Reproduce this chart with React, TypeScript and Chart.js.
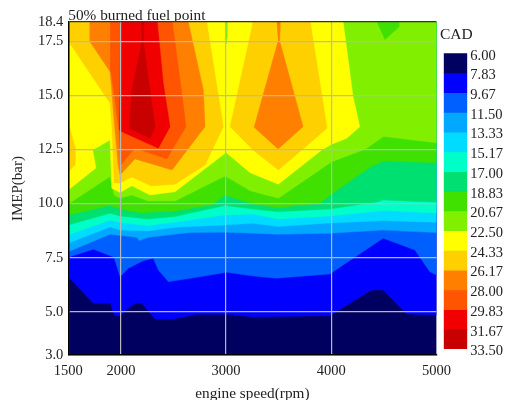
import React, { useEffect, useRef } from "react";
import { Chart, registerables } from "chart.js";

Chart.register(...registerables);

const FONT = "'Liberation Serif'";
const TEXT = "#222";

const rpmTicks = [1500, 2000, 3000, 4000, 5000];
const imepTicks = [3, 5, 7.5, 10, 12.5, 15, 17.5, 18.4];
const levels = [6, 7.83, 9.67, 11.5, 13.33, 15.17, 17, 18.83, 20.67, 22.5, 24.33, 26.17, 28, 29.83, 31.67, 33.5];
const bandColors = ["#000060", "#0000ff", "#0060ff", "#00a8ff", "#00dcff", "#00ffc8", "#00e070", "#40e000", "#80f000", "#ffff00", "#ffd000", "#ff8000", "#ff5500", "#f00000", "#c80000"];

type P = number[];
const base: P[] = [[1500, 3], [5000, 3], [5000, 18.4], [1500, 18.4]];
const c783: P[] = [[1500, 6.62], [1738, 5.39], [1903, 5.39], [1935, 4.85], [1992, 4.8], [2071, 5.16], [2134, 5.39], [2198, 5.39], [2325, 4.67], [2499, 4.67], [2721, 4.88], [3006, 4.88], [3256, 4.77], [3986, 4.82], [4382, 6.01], [4493, 6.01], [4714, 4.9], [5000, 4.85]];
const c967: P[] = [[1500, 7.52], [1738, 7.89], [1935, 7.52], [1992, 6.62], [2071, 7.01], [2213, 7.36], [2308, 7.47], [2356, 6.93], [2451, 6.39], [2721, 6.59], [3006, 6.83], [3256, 6.65], [3478, 6.55], [3986, 6.75], [4493, 8.4], [4794, 7.86], [4937, 6.85], [5000, 6.7]];
const c1150: P[] = [[1500, 7.78], [1897, 8.58], [2150, 8.44], [2175, 8.29], [2261, 8.44], [2657, 8.66], [3006, 8.68], [3256, 8.63], [3494, 8.58], [3986, 8.63], [4493, 8.78], [5000, 8.66]];
const c1333: P[] = [[1500, 8.17], [1897, 8.92], [1992, 8.78], [2261, 8.74], [2515, 8.91], [2990, 9.01], [3256, 9.09], [3494, 8.94], [3989, 9.11], [4493, 9.21], [5000, 9.14]];
const c1517: P[] = [[1500, 8.55], [1897, 9.24], [1992, 9.13], [2261, 8.99], [2515, 9.15], [2990, 9.48], [3256, 9.52], [3494, 9.29], [3989, 9.43], [4493, 9.68], [5000, 9.57]];
const c1700: P[] = [[1500, 9.01], [1897, 9.55], [1992, 9.43], [2258, 9.29], [2515, 9.4], [2990, 9.91], [3256, 9.75], [3494, 9.63], [3989, 9.75], [4445, 10.09], [4493, 10.17], [5000, 10.06]];
const c1883: P[] = [[1500, 9.48], [1897, 9.91], [1992, 9.75], [2198, 9.58], [2515, 9.66], [2864, 9.94], [2990, 10.4], [3256, 9.98], [3497, 9.81], [3894, 10.02], [3989, 10.4], [4353, 11.64], [4496, 11.97], [5000, 11.89]];
const c2067: P[] = [[1500, 9.98], [1897, 11.25], [1935, 10.4], [1992, 10.25], [2103, 10.4], [2258, 10.12], [2515, 10.12], [2990, 11.28], [3228, 10.6], [3497, 10.25], [4005, 11.94], [4322, 12.51], [4496, 13.1], [5000, 12.81]];
const c2250: P[] = [[1500, 10.63], [1763, 11.65], [1732, 12.48], [1897, 12.94], [1913, 10.71], [1992, 10.51], [2103, 10.83], [2277, 10.4], [2515, 10.55], [3000, 12.36], [3228, 11.43], [3497, 10.9], [3910, 12.48], [4005, 12.75], [4148, 13.02], [4271, 13.56], [4207, 14.95], [4113, 18.4]];
const dip2067: P[] = [[4433, 18.4], [4642, 18.4], [4642, 18.17], [4509, 17.58]];
const wedge2250: P[] = [[2990, 18.4], [3009, 18.4], [3009, 17.66], [3000, 17.38], [2990, 17.66]];
const c2433Left: P[] = [[1500, 18.4], [1500, 17.52], [1897, 14.64], [1916, 13.41], [1935, 10.96], [1992, 10.96], [2103, 11.23], [2287, 10.82], [2515, 10.9], [2800, 11.79], [2974, 13.56], [2816, 18.4]];
const c2433Right: P[] = [[3256, 18.4], [3228, 17.75], [3038, 13.56], [3256, 12.48], [3497, 11.56], [3720, 12.48], [3960, 13.49], [3801, 18.4]];
const c2433Edge: P[] = [[1500, 13.73], [1564, 12.62], [1564, 11.79], [1500, 11.48]];
const c2617Left: P[] = [[1706, 18.4], [1706, 17.49], [1897, 16.1], [1935, 13.87], [1973, 11.79], [1992, 11.33], [2134, 12.07], [2486, 11.56], [2800, 13.56], [2784, 15.26], [2641, 18.4]];
const c2617Right: P[] = [[3482, 18.4], [3516, 18.4], [3510, 17.52], [3732, 13.56], [3494, 12.53], [3266, 13.53], [3494, 17.52]];
const c2800: P[] = [[1903, 18.4], [1903, 16.1], [1944, 14.79], [1979, 13.41], [1998, 11.79], [2134, 12.57], [2436, 12.07], [2619, 13.56], [2581, 15.03], [2489, 18.4]];
const c2983: P[] = [[1998, 18.4], [1987, 13.41], [2008, 13.33], [2356, 12.56], [2467, 13.56], [2403, 15.58], [2346, 18.4]];
const c3167: P[] = [[2194, 18.4], [2220, 18.4], [2213, 17.49], [2325, 13.56], [2277, 13.02], [2080, 13.49], [2103, 15.26], [2201, 17.49]];

const above = (line: P[]): P[] => [...line, [5000, 18.4], [1500, 18.4]];
const regions: [P[], string][] = [
  [base, bandColors[0]],
  [above(c783), bandColors[1]],
  [above(c967), bandColors[2]],
  [above(c1150), bandColors[3]],
  [above(c1333), bandColors[4]],
  [above(c1517), bandColors[5]],
  [above(c1700), bandColors[6]],
  [above(c1883), bandColors[7]],
  [above(c2067), bandColors[8]],
  [[...c2250, [1500, 18.4]], bandColors[9]],
  [dip2067, bandColors[7]],
  [wedge2250, bandColors[8]],
  [c2433Left, bandColors[10]],
  [c2433Right, bandColors[10]],
  [c2433Edge, bandColors[10]],
  [c2617Left, bandColors[11]],
  [c2617Right, bandColors[11]],
  [c2800, bandColors[12]],
  [c2983, bandColors[13]],
  [c3167, bandColors[14]],
];

const alignTitle = (left: (c: any) => number) => ({
  id: "alignTitle",
  afterLayout(chart: any) {
    if (chart.titleBlock) chart.titleBlock.left = left(chart);
  },
});

export default function App() {
  const mapRef = useRef<HTMLCanvasElement>(null);
  const barRef = useRef<HTMLCanvasElement>(null);

  useEffect(() => {
    const map = new Chart(mapRef.current as any, {
      type: "scatter",
      data: {
        datasets: regions.map(([pts, color], i) => ({
          data: pts.map(([x, y]) => ({ x, y })),
          showLine: true,
          fill: "shape",
          order: regions.length - i,
          backgroundColor: color,
          borderColor: color,
          borderWidth: 0.4,
          pointRadius: 0,
          tension: 0,
        })),
      },
      options: {
        animation: false,
        responsive: false,
        layout: { padding: { left: 0, right: 69.5, top: 0, bottom: 0 } },
        plugins: {
          legend: { display: false },
          tooltip: { enabled: false },
          title: {
            display: true,
            text: "50% burned fuel point",
            align: "start",
            color: TEXT,
            font: { family: FONT, size: 15.3, weight: "normal", lineHeight: 1 },
            padding: { top: 8.7, bottom: -2 },
          },
        },
        scales: {
          x: {
            type: "linear",
            min: 1500,
            max: 5000,
            afterBuildTicks: (s: any) => { s.ticks = rpmTicks.map((value) => ({ value })); },
            afterFit: (s: any) => { s.height = 45; },
            ticks: { color: TEXT, padding: 7, maxRotation: 0, autoSkip: false, font: { family: FONT, size: 14.5 }, callback: (v: any) => String(v) },
            grid: { z: 1, drawTicks: false, lineWidth: 1.2, color: (c: any) => (c.tick && c.tick.value === 5000 ? "rgba(0,0,0,0)" : "#b8b8b8") },
            border: { display: true, color: "#000", width: 1.5, z: 2 },
            title: { display: true, text: "engine speed(rpm)", color: TEXT, font: { family: FONT, size: 15.3, lineHeight: 1 }, padding: { top: 0, bottom: -1.5 } },
          },
          y: {
            type: "linear",
            min: 3,
            max: 18.4,
            afterBuildTicks: (s: any) => { s.ticks = imepTicks.map((value) => ({ value })); },
            afterFit: (s: any) => { s.width = 68.3; },
            ticks: { color: TEXT, padding: 5, autoSkip: false, font: { family: FONT, size: 14.5 }, callback: (v: any) => Number(v).toFixed(1) },
            grid: { z: 1, drawTicks: false, lineWidth: 1.2, color: (c: any) => (c.tick && c.tick.value === 18.4 ? "#333" : "#b8b8b8") },
            border: { display: true, color: "#000", width: 1.5, z: 2 },
            title: { display: true, text: "IMEP(bar)", color: TEXT, font: { family: FONT, size: 15, lineHeight: 1 }, padding: { top: 11, bottom: 0 } },
          },
        },
      } as any,
      plugins: [alignTitle((c) => c.chartArea.left)],
    } as any);

    const bar = new Chart(barRef.current as any, {
      type: "bar",
      data: {
        labels: ["CAD"],
        datasets: bandColors.map((color, i) => ({
          data: [levels[i + 1] - levels[i]],
          backgroundColor: color,
          borderWidth: 0,
          categoryPercentage: 1,
          barPercentage: 1,
        })),
      },
      options: {
        animation: false,
        responsive: false,
        layout: { padding: { left: 5.7, right: 0, top: 0, bottom: 51 } },
        plugins: {
          legend: { display: false },
          tooltip: { enabled: false },
          title: {
            display: true,
            text: "CAD",
            align: "start",
            color: TEXT,
            font: { family: FONT, size: 15.5, weight: "normal", lineHeight: 1 },
            padding: { top: 27, bottom: 10.8 },
          },
        },
        scales: {
          x: { stacked: true, display: false },
          y: {
            stacked: true,
            reverse: true,
            position: "right",
            min: 0,
            max: levels[levels.length - 1] - levels[0],
            afterBuildTicks: (s: any) => { s.ticks = levels.map((l) => ({ value: l - levels[0] })); },
            afterFit: (s: any) => { s.width = 38.7; },
            ticks: {
              color: TEXT,
              padding: 3,
              labelOffset: 2.5,
              autoSkip: false,
              font: { family: FONT, size: 14.5 },
              callback: (v: any) => (Number(v) + levels[0]).toFixed(2),
            },
            grid: { display: false, drawTicks: false },
            border: { display: false },
          },
        },
      } as any,
      plugins: [alignTitle(() => 2)],
    } as any);

    return () => {
      map.destroy();
      bar.destroy();
    };
  }, []);

  return (
    <div style={{ position: "absolute", left: 0, top: 0, width: 506, height: 400, background: "#fff", overflow: "hidden" }}>
      <canvas ref={mapRef} width={506} height={400} style={{ position: "absolute", left: 0, top: 0, width: 506, height: 400 }} />
      <canvas ref={barRef} width={68} height={400} style={{ position: "absolute", left: 438, top: 0, width: 68, height: 400 }} />
    </div>
  );
}
